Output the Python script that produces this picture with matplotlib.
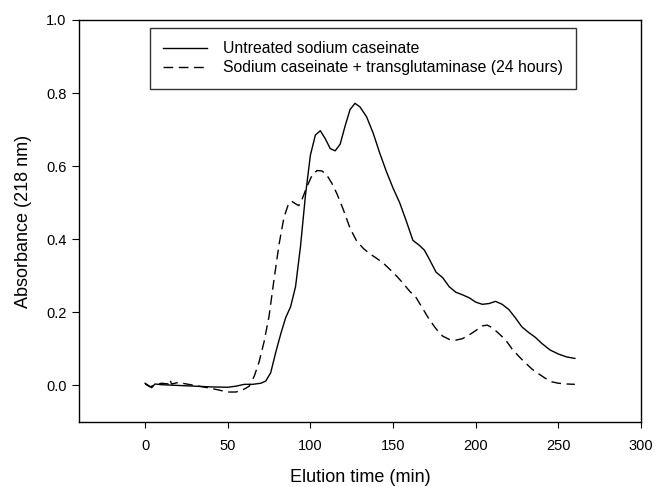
import numpy as np
import matplotlib
matplotlib.use('Agg')
import matplotlib.pyplot as plt

plt.rcParams['font.family'] = ['Liberation Sans', 'DejaVu Sans']

# Untreated sodium caseinate (solid)
t_untreated = [0, 2, 4, 6, 10, 20, 30, 40, 50, 55, 60, 65, 70, 73, 76, 79, 82, 85,
               88, 91, 94, 97, 100, 103, 106, 109, 112, 115, 118, 121, 124, 127, 130,
               134, 138, 142, 146, 150, 154, 158, 162, 166, 169, 172, 176, 180, 184,
               188, 192, 196, 200, 204, 208, 212, 216, 220, 224, 228, 232, 236, 240,
               245, 250, 255, 260]
a_untreated = [0.006, 0.0, -0.006, 0.004, 0.002, 0.0, -0.002, -0.004, -0.005, -0.002,
               0.003, 0.003, 0.006, 0.012, 0.035, 0.09, 0.14, 0.185, 0.215, 0.27, 0.38,
               0.52, 0.63, 0.685, 0.697, 0.675, 0.648, 0.642, 0.66, 0.71, 0.755, 0.772,
               0.762, 0.735, 0.69, 0.635, 0.585, 0.54, 0.50, 0.45, 0.397, 0.383, 0.37,
               0.345, 0.31, 0.295, 0.27, 0.255, 0.248, 0.24, 0.228, 0.222, 0.224, 0.23,
               0.222, 0.208, 0.185, 0.16, 0.145, 0.132, 0.115, 0.097, 0.086, 0.078, 0.074]

# Sodium caseinate + transglutaminase (dashed)
t_tg = [0, 3, 6, 10, 14, 15, 16, 20, 25, 30, 35, 40, 45, 50, 55, 60, 63, 66, 69, 72,
        75, 78, 81, 84, 87, 89, 91, 93, 95, 98, 101, 104, 107, 110, 113, 116, 120, 124,
        128, 132, 136, 140, 144, 148, 152, 156, 160, 164, 168, 172, 176, 180, 184, 188,
        192, 196, 200, 204, 207, 210, 214, 218, 222, 226, 230, 234, 238, 242, 246, 250,
        255, 260]
a_tg = [0.004, -0.004, 0.002, 0.006, 0.004, 0.016, 0.004, 0.008, 0.004, 0.0, -0.004,
        -0.008, -0.013, -0.018, -0.018, -0.01, -0.002, 0.025, 0.065, 0.12, 0.19, 0.29,
        0.385, 0.46, 0.5, 0.503, 0.497, 0.492, 0.51, 0.545, 0.575, 0.588, 0.587, 0.575,
        0.553, 0.525, 0.48, 0.43, 0.395, 0.375, 0.36, 0.348, 0.335, 0.318, 0.3, 0.28,
        0.258, 0.24, 0.21, 0.18, 0.155, 0.135, 0.126, 0.124, 0.128, 0.138, 0.15, 0.163,
        0.165, 0.158, 0.142, 0.125, 0.1, 0.08, 0.062, 0.045, 0.032, 0.02, 0.01, 0.006,
        0.004, 0.003]

labels = ['Untreated sodium caseinate', 'Sodium caseinate + transglutaminase (24 hours)']

fig = plt.figure(figsize=(6.55, 4.87), dpi=100)
ax = fig.add_axes([0.1206, 0.1335, 0.858, 0.8255])

ax.plot(t_untreated, a_untreated, color='black', lw=1.0, label=labels[0])
ax.plot(t_tg, a_tg, color='black', lw=1.0, dashes=(7, 4), label=labels[1])

ax.set_xlim(-40, 300)
ax.set_ylim(-0.1, 1.0)
ax.set_xticks([0, 50, 100, 150, 200, 250, 300])
ax.set_yticks([0.0, 0.2, 0.4, 0.6, 0.8, 1.0])
ax.yaxis.set_major_formatter(matplotlib.ticker.FormatStrFormatter('%.1f'))
ax.tick_params(axis='x', direction='out', length=4, pad=8, labelsize=10.5)
ax.tick_params(axis='y', direction='out', length=5, pad=4, labelsize=10.5)
for s in ax.spines.values():
    s.set_linewidth(1.0)

ax.set_xlabel('Elution time (min)', fontsize=13, labelpad=12)
ax.set_ylabel('Absorbance (218 nm)', fontsize=13, labelpad=10)

leg = ax.legend(loc='upper left', bbox_to_anchor=(0.126, 0.98), borderaxespad=0,
                fontsize=11.3, frameon=True, fancybox=False, handlelength=2.8,
                handletextpad=1.0, borderpad=0.85, labelspacing=0.25)
leg.get_frame().set_edgecolor('black')
leg.get_frame().set_linewidth(1.0)

fig.savefig('out.png', dpi=100)
